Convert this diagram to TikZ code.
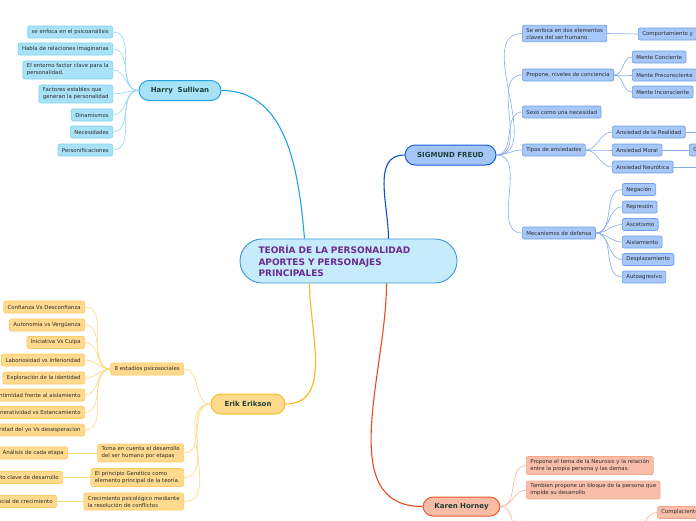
\documentclass[tikz,border=0pt]{standalone}
\usepackage{fontspec}
\setmainfont{DejaVu Sans}
\usetikzlibrary{positioning}

\definecolor{theoryfill}{HTML}{C6EBFA}
\definecolor{theoryline}{HTML}{3C98D4}
\definecolor{theorytext}{HTML}{6A2C90}
\definecolor{topictext}{HTML}{1C3F37}
\definecolor{leaftext}{HTML}{2D2D2D}
\definecolor{sulfill}{HTML}{A7E2F7}
\definecolor{sulline}{HTML}{1FA3E3}
\definecolor{sulleaf}{HTML}{A9E2F6}
\definecolor{sulleafline}{HTML}{7ED2F2}
\definecolor{sullink}{HTML}{8FD7F4}
\definecolor{freudfill}{HTML}{A3C5F8}
\definecolor{freudline}{HTML}{1A5FD3}
\definecolor{freudbranch}{HTML}{0D50C4}
\definecolor{freudleaf}{HTML}{A6C7F7}
\definecolor{freudleafline}{HTML}{6F9FE9}
\definecolor{freudlink}{HTML}{86ABEC}
\definecolor{erikfill}{HTML}{FFDA8A}
\definecolor{erikline}{HTML}{F7BD2C}
\definecolor{erikbranch}{HTML}{F9B812}
\definecolor{erikleaf}{HTML}{FFDA8E}
\definecolor{erikleafline}{HTML}{FECB62}
\definecolor{eriklink}{HTML}{FFD77E}
\definecolor{karenfill}{HTML}{F8BBA6}
\definecolor{karenline}{HTML}{EE5B2B}
\definecolor{karenbranch}{HTML}{E84A1F}
\definecolor{karenleaf}{HTML}{F8BEA9}
\definecolor{karenleafline}{HTML}{F3A68B}
\definecolor{karenlink}{HTML}{F5AF97}

\tikzset{
    theory/.style={
        draw=theoryline,
        fill=theoryfill,
        line width=0.9pt,
        rounded corners=22pt,
        minimum width=217pt,
        minimum height=44pt,
        text width=180pt,
        align=left,
        text=theorytext,
        font=\fontsize{9}{11.4}\selectfont\bfseries
    },
    topic/.style={
        draw,
        line width=1pt,
        rounded corners=10pt,
        minimum height=20pt,
        text=topictext,
        font=\fontsize{7}{8}\selectfont\bfseries
    },
    leaf/.style={
        draw,
        line width=0.7pt,
        rounded corners=2pt,
        align=left,
        inner xsep=4pt,
        inner ysep=2.8pt,
        minimum height=12pt,
        text=leaftext,
        font=\fontsize{5.4}{7}\selectfont
    },
    sul leaf/.style={leaf, fill=sulleaf, draw=sulleafline, anchor=east},
    freud leaf/.style={leaf, fill=freudleaf, draw=freudleafline, anchor=west},
    erik leaf/.style={leaf, fill=erikleaf, draw=erikleafline, anchor=east},
    karen leaf/.style={leaf, fill=karenleaf, draw=karenleafline, anchor=west},
    branch left/.style={out=180, in=0},
    branch right/.style={out=0, in=180},
    link/.style={line width=0.6pt}
}

\begin{document}
\begin{tikzpicture}[x=1pt, y=1pt]
    \useasboundingbox (0,0) rectangle (696,-520);
    \clip (0,0) rectangle (696,-520);

    % centre
    \node[theory] (theory) at (348.5,-261) {TEORÍA DE LA PERSONALIDAD\\APORTES Y PERSONAJES\\PRINCIPALES};

    % Harry Sullivan
    \node[topic, fill=sulfill, draw=sulline, minimum width=82pt] (sullivan) at (180,-90.5) {Harry\ \ Sullivan};
    \node[sul leaf] (s1) at (113,-32) {se enfoca en el psicoanálisis};
    \node[sul leaf] (s2) at (113,-49) {Habla de relaciones imaginarias};
    \node[sul leaf] (s3) at (113,-70) {El entorno factor clave para la\\personalidad.};
    \node[sul leaf] (s4) at (113,-94) {Factores estables que\\generan la personalidad};
    \node[sul leaf] (s5) at (113,-115) {Dinamismos};
    \node[sul leaf] (s6) at (113,-132) {Necesidades};
    \node[sul leaf] (s7) at (113,-150) {Personificaciones};

    % Sigmund Freud
    \node[topic, fill=freudfill, draw=freudline, minimum width=91pt] (freud) at (450.5,-155) {SIGMUND FREUD};
    \node[freud leaf] (f1) at (522,-33.5) {Se enfoca en dos elementos\\claves del ser humano};
    \node[freud leaf] (f1a) at (638,-34) {Comportamiento y};
    \node[freud leaf] (f2) at (522,-75) {Propone, niveles de conciencia};
    \node[freud leaf] (f2a) at (632,-57) {Mente Conciente};
    \node[freud leaf] (f2b) at (632,-75) {Mente Preconsciente};
    \node[freud leaf] (f2c) at (632,-92) {Mente Inconsciente};
    \node[freud leaf] (f3) at (522,-112) {Sexo como una necesidad};
    \node[freud leaf] (f4) at (522,-150) {Tipos de ansiedades};
    \node[freud leaf] (f4a) at (612,-132) {Ansiedad de la Realidad};
    \node[freud leaf] (f4b) at (612,-150) {Ansiedad Moral};
    \node[freud leaf] (f4c) at (612,-167) {Ansiedad Neurótica};
    \node[freud leaf] (f4d) at (689,-150) {Culpa};
    \coordinate (f4e) at (712,-132);
    \coordinate (f4f) at (712,-167);
    \node[freud leaf] (f5) at (522,-233) {Mecanismos de defensa};
    \node[freud leaf] (f5a) at (622,-189.5) {Negación};
    \node[freud leaf] (f5b) at (622,-207) {Represión};
    \node[freud leaf] (f5c) at (622,-224.5) {Ascetismo};
    \node[freud leaf] (f5d) at (622,-242) {Aislamiento};
    \node[freud leaf] (f5e) at (622,-259.5) {Desplazamiento};
    \node[freud leaf] (f5f) at (622,-277) {Autoagresivo};

    % Erik Erikson
    \node[topic, fill=erikfill, draw=erikline, minimum width=74pt] (erik) at (248,-404) {Erik Erikson};
    \node[erik leaf] (e0) at (184,-369) {8 estadios psicosociales};
    \node[erik leaf] (e01) at (85,-307) {Confianza Vs Desconfianza};
    \node[erik leaf] (e02) at (85,-325) {Autonomía vs Vergüenza};
    \node[erik leaf] (e03) at (85,-342.5) {Iniciativa Vs Culpa};
    \node[erik leaf] (e04) at (85,-360) {Laboriosidad vs Inferioridad};
    \node[erik leaf] (e05) at (85,-378) {Exploración de la identidad};
    \node[erik leaf] (e06) at (85,-395) {Intimidad frente al aislamiento};
    \node[erik leaf] (e07) at (85,-412.5) {Generatividad vs Estancamiento};
    \node[erik leaf] (e08) at (85,-430) {Integridad del yo Vs desesperacion};
    \node[erik leaf] (e1) at (184,-453) {Toma en cuenta el desarrollo\\del ser humano por etapas};
    \node[erik leaf] (e1a) at (68,-453) {Análisis de cada etapa};
    \node[erik leaf] (e2) at (184,-477.5) {El principio Genético como\\elemento principal de la teoría.};
    \node[erik leaf] (e2a) at (63,-477.5) {Punto clave de desarrollo};
    \node[erik leaf] (e3) at (184,-501.5) {Crecimiento psicológico mediante\\la resolución de conflictos};
    \node[erik leaf] (e3a) at (57,-501.5) {Potencial de crecimiento};

    % Karen Horney
    \node[topic, fill=karenfill, draw=karenline, minimum width=77pt, minimum height=19pt] (karen) at (461.5,-506.5) {Karen Horney};
    \node[karen leaf] (k1) at (526,-465.5) {Propone el tema de la Neurosis y la relación\\entre la propia persona y las demas.};
    \node[karen leaf] (k2) at (526,-490) {Tambien propone un bloque de la persona que\\impide su desarrollo};
    \coordinate (k3) at (526,-545);
    \node[karen leaf] (k4) at (657,-512.5) {Complaciente};
    \coordinate (k5) at (628,-542);

    % main branches
    \draw[sulline, line width=1.1pt] ([xshift=-44pt]theory.north) to[out=95, in=0] (sullivan.east);
    \draw[freudbranch, line width=1.1pt] ([xshift=40pt]theory.north) to[out=90, in=180] (freud.west);
    \draw[erikbranch, line width=1.1pt] ([xshift=-39pt]theory.south) to[out=-90, in=0] (erik.east);
    \draw[karenbranch, line width=1.1pt] ([xshift=38pt]theory.south) to[out=-90, in=180] (karen.west);

    % Sullivan links
    \draw[sullink, link] (sullivan.west)
        edge[branch left] (s1.east)
        edge[branch left] (s2.east)
        edge[branch left] (s3.east)
        edge[branch left] (s4.east)
        edge[branch left] (s5.east)
        edge[branch left] (s6.east)
        edge[branch left] (s7.east);

    % Freud links
    \draw[freudlink, link] (freud.east)
        edge[branch right] (f1.west)
        edge[branch right] (f2.west)
        edge[branch right] (f3.west)
        edge[branch right] (f4.west)
        edge[branch right] (f5.west);
    \draw[freudlink, link] (f1.east) -- (f1a.west);
    \draw[freudlink, link] (f2.east)
        edge[branch right] (f2a.west)
        edge[branch right] (f2b.west)
        edge[branch right] (f2c.west);
    \draw[freudlink, link] (f4.east)
        edge[branch right] (f4a.west)
        edge[branch right] (f4b.west)
        edge[branch right] (f4c.west);
    \draw[freudlink, link] (f4a.east) -- (f4e);
    \draw[freudlink, link] (f4b.east) -- (f4d.west);
    \draw[freudlink, link] (f4c.east) -- (f4f);
    \draw[freudlink, link] (f5.east)
        edge[branch right] (f5a.west)
        edge[branch right] (f5b.west)
        edge[branch right] (f5c.west)
        edge[branch right] (f5d.west)
        edge[branch right] (f5e.west)
        edge[branch right] (f5f.west);

    % Erikson links
    \draw[eriklink, link] (erik.west)
        edge[branch left] (e0.east)
        edge[branch left] (e1.east)
        edge[branch left] (e2.east)
        edge[branch left] (e3.east);
    \draw[eriklink, link] (e0.west)
        edge[branch left] (e01.east)
        edge[branch left] (e02.east)
        edge[branch left] (e03.east)
        edge[branch left] (e04.east)
        edge[branch left] (e05.east)
        edge[branch left] (e06.east)
        edge[branch left] (e07.east)
        edge[branch left] (e08.east);
    \draw[eriklink, link] (e1.west) -- (e1a.east);
    \draw[eriklink, link] (e2.west) -- (e2a.east);
    \draw[eriklink, link] (e3.west) -- (e3a.east);

    % Horney links
    \draw[karenlink, link] (karen.east)
        edge[branch right] (k1.west)
        edge[branch right] (k2.west)
        edge[branch right] (k3);
    \draw[karenlink, link] (k5) to[branch right] (k4.west);
\end{tikzpicture}
\end{document}
